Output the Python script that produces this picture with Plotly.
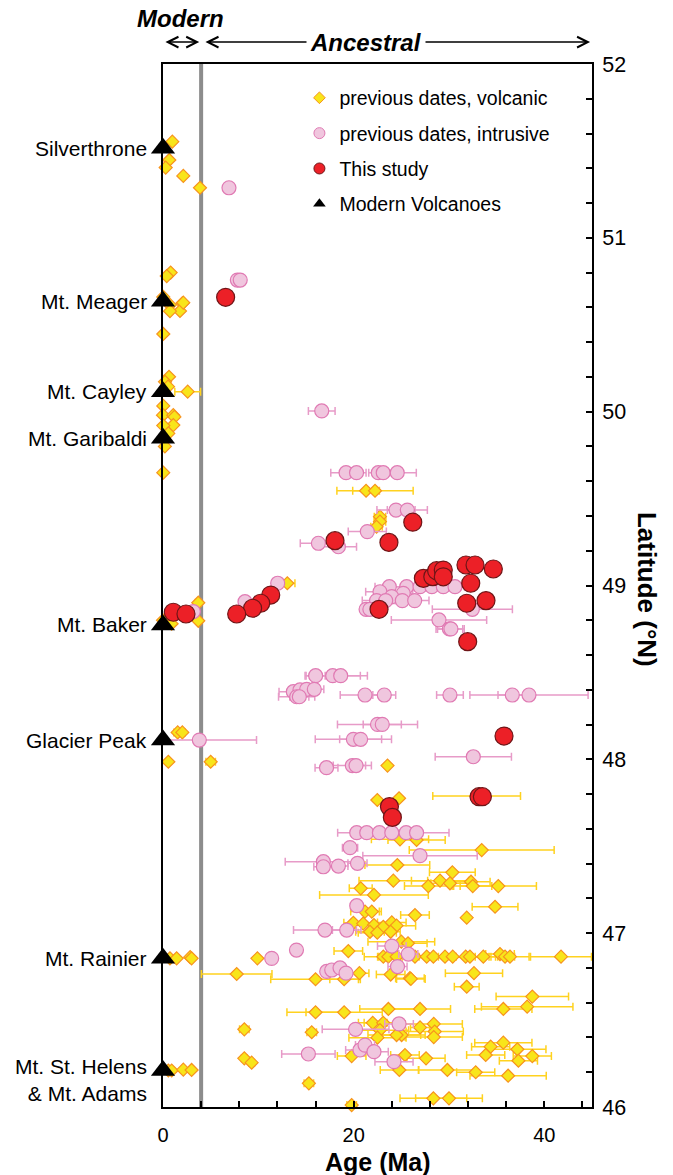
import plotly.graph_objects as go

# ---- previous dates, volcanic: age (Ma), latitude (°N), ± age error (Ma)
volc_age = [0.98, 0.66, 0.28, 2.13, 3.88,
            0.8, 0.39, 0.03, 0.73, 2.03, 1.78, 0.73, 0.03, 2.13,
            0.63, 0.21, 0.53, 2.59,
            0.03, 0.0, 1.08, 1.2, 1.08, 0.03, 0.56, 0.2, 0.2, 0.03,
            21.3, 22.24, 22.76, 22.76, 22.4, 13.04,
            3.7, 3.7, 0.0, 0.9,
            1.54, 2.03, 0.56, 5.0, 23.55,
            22.48, 24.76, 32.9, 24.86, 26.6, 33.43, 24.58, 30.35,
            24.16, 27.83, 29.06, 30.1, 32.31, 32.49, 35.17, 20.74, 22.13,
            34.83, 31.86, 26.43, 21.19, 21.9,
            19.97, 21.0, 22.13, 23.11, 24.0, 24.5, 21.71, 22.48, 23.88,
            25.0, 25.7,
            19.44, 23.11, 23.64, 24.51, 26.43, 27.66, 28.36, 29.58, 30.39,
            31.75, 32.2, 33.6, 35.35, 35.88, 36.4, 41.75,
            0.73, 1.43, 2.85, 3.0, 9.9,
            7.73, 16.0, 19.0, 20.6, 23.88, 25.9, 26.0, 32.62, 31.86,
            16.0, 19.0, 23.64, 26.96, 35.7, 38.2, 38.74,
            8.53, 15.6, 22.0, 23.1, 22.76, 22.5, 25.03, 24.5, 26.96,
            28.4, 28.5, 28.4,
            35.7, 34.37, 37.17, 38.74, 37.28, 33.85, 19.79, 25.38, 27.59,
            24.79, 29.83, 32.8, 36.2, 15.3, 28.36, 30.0, 19.79,
            8.53, 9.3,
            0.56, 0.91, 2.13, 3.0]
volc_lat = [51.553, 51.448, 51.404, 51.356, 51.288,
            50.80, 50.78, 50.66, 50.614, 50.623, 50.579, 50.578, 50.447, 50.627,
            50.201, 50.172, 50.144, 50.115,
            50.033, 49.98, 49.98, 49.97, 49.923, 49.92, 49.875, 49.837, 49.80, 49.649,
            49.545, 49.545, 49.396, 49.367, 49.338, 49.013,
            48.901, 48.797, 48.80, 48.78,
            48.155, 48.155, 47.986, 47.986, 47.964,
            47.766, 47.776, 47.789, 47.54, 47.536, 47.478, 47.392, 47.35,
            47.302, 47.271, 47.302, 47.287, 47.296, 47.271, 47.271, 47.258, 47.22,
            47.152, 47.089, 47.104, 47.124, 47.124,
            47.06, 47.055, 47.047, 47.037, 47.062, 47.043, 47.008, 47.003, 47.008,
            46.951, 46.942,
            46.897, 46.865, 46.865, 46.865, 46.865, 46.865, 46.865, 46.865, 46.865,
            46.865, 46.865, 46.865, 46.88, 46.865, 46.865, 46.865,
            46.855, 46.855, 46.862, 46.855, 46.855,
            46.765, 46.735, 46.735, 46.77, 46.762, 46.741, 46.737, 46.77, 46.692,
            46.545, 46.545, 46.564, 46.564, 46.564, 46.577, 46.635,
            46.447, 46.43, 46.484, 46.484, 46.442, 46.399, 46.414, 46.414, 46.458,
            46.478, 46.434, 46.402,
            46.37, 46.347, 46.332, 46.293, 46.266, 46.299, 46.293, 46.299, 46.28,
            46.213, 46.213, 46.2, 46.18, 46.136, 46.05, 46.05, 46.011,
            46.28, 46.255,
            46.21, 46.21, 46.215, 46.213]
volc_err = [0, 0, 0, 0, 0,
            0, 0, 0, 0, 0, 0, 0, 0, 0,
            0, 0, 0, 1.35,
            0, 0, 0, 0, 0, 0, 0, 0, 0, 0,
            1.4, 4.0, 0.6, 0.6, 0.6, 0.8,
            0.3, 0, 0, 0,
            0.4, 0.3, 0, 0.5, 0,
            0, 0, 4.6, 3.0, 3.0, 7.6, 3.4, 2.4,
            3.6, 2.5, 3.0, 2.0, 2.0, 2.0, 4.0, 1.2, 5.7,
            2.4, 0, 1.5, 1.5, 1.0,
            1.0, 1.0, 2.0, 1.5, 1.5, 2.0, 1.5, 2.0, 1.0,
            3.5, 2.0,
            1.5, 2.0, 1.0, 2.0, 1.5, 1.0, 1.5, 2.0, 1.5,
            1.0, 2.0, 1.5, 1.5, 1.0, 2.0, 3.2,
            0, 0, 0, 0, 0,
            3.7, 4.7, 1.5, 1.0, 1.5, 1.5, 1.5, 3.0, 1.3,
            3.0, 4.0, 3.0, 3.2, 3.0, 4.8, 3.8,
            0.5, 0.5, 1.5, 2.0, 3.0, 3.0, 2.0, 3.0, 1.0,
            3.0, 3.0, 3.0,
            3.0, 2.0, 3.0, 2.0, 2.0, 2.0, 1.5, 1.5, 2.0,
            2.0, 3.0, 2.0, 4.0, 0.5, 3.5, 3.5, 0.5,
            0.3, 0.3,
            0, 0, 0, 0]

# ---- previous dates, intrusive
intr_age = [6.92, 7.8, 8.1, 16.65,
            19.2, 20.3, 22.58, 23.1, 24.57, 24.44, 25.63, 21.43, 16.3, 18.4,
            12.03, 8.6, 3.18,
            23.74, 25.56, 26.96, 28.2, 29.4, 30.63, 22.76, 25.2, 23.99,
            22.4, 23.36, 25.1, 26.4, 21.3, 21.7, 32.45, 28.95, 30.04, 30.2,
            16.01, 17.8, 18.64,
            13.67, 14.37, 15.07, 15.87, 14.02, 14.3,
            21.19, 23.21, 30.1, 36.64, 38.39,
            22.5, 23.0, 3.81, 19.97, 20.73, 32.55,
            17.15, 19.86, 20.25,
            20.32, 21.37, 22.7, 24.0, 25.5, 26.6,
            19.62, 26.96, 16.82, 16.82, 18.4, 20.4,
            20.32, 16.99, 19.27,
            24.0, 25.73, 11.4, 14.0,
            17.17, 17.7, 18.57, 19.2, 24.6,
            20.2, 24.76, 15.25, 20.66, 21.19, 22.13, 24.23]
intr_lat = [51.288, 50.757, 50.757, 50.004,
            49.649, 49.649, 49.649, 49.649, 49.649, 49.434, 49.434, 49.31, 49.243, 49.223,
            49.013, 48.907, 48.85,
            48.993, 48.993, 48.993, 48.993, 48.993, 48.993, 48.964, 48.955, 48.936,
            48.913, 48.913, 48.913, 48.913, 48.863, 48.863, 48.863, 48.802, 48.75, 48.75,
            48.481, 48.481, 48.481,
            48.389, 48.399, 48.403, 48.403, 48.36, 48.36,
            48.37, 48.37, 48.37, 48.37, 48.37,
            48.201, 48.201, 48.111, 48.115, 48.115, 48.015,
            47.952, 47.964, 47.964,
            47.578, 47.578, 47.578, 47.578, 47.578, 47.578,
            47.492, 47.446, 47.411, 47.382, 47.386, 47.402,
            47.158, 47.018, 47.018,
            46.926, 46.88, 46.855, 46.903,
            46.78, 46.788, 46.8, 46.77, 46.808,
            46.447, 46.478, 46.305, 46.328, 46.356, 46.318, 46.261]
intr_err = [0, 0.5, 0.5, 1.4,
            1.6, 1.0, 1.0, 1.0, 2.0, 2.0, 2.1, 2.0, 1.9, 1.9,
            0, 0, 0,
            1.5, 1.5, 1.0, 1.0, 1.0, 1.0, 1.5, 1.0, 1.0,
            1.5, 1.0, 1.0, 1.5, 0.5, 0.5, 4.2, 5.0, 1.4, 1.4,
            1.0, 2.9, 2.8,
            1.5, 1.0, 1.0, 1.0, 1.9, 1.0,
            2.6, 1.2, 1.4, 1.5, 6.2,
            4.2, 2.0, 6.0, 4.0, 2.2, 4.0,
            1.2, 2.0, 1.0,
            2.0, 1.5, 1.5, 1.5, 1.5, 3.4,
            0.8, 6.0, 4.0, 1.0, 1.0, 1.0,
            0, 3.3, 1.5,
            1.5, 1.0, 0, 0,
            0, 0, 0, 0, 1.0,
            3.5, 1.5, 2.8, 1.5, 1.0, 1.5, 2.0]

# ---- this study
new_age = [6.57, 26.2, 18.04, 23.7, 11.3, 10.25, 9.4, 7.73, 1.08, 2.41,
           22.66, 27.31, 28.3, 28.7, 29.4, 29.4, 31.78, 32.73, 34.65, 32.28,
           31.86, 33.88, 31.96, 35.77, 33.15, 33.5, 23.75, 24.06]
new_lat = [50.658, 49.364, 49.258, 49.248, 48.945, 48.898, 48.869, 48.836, 48.846, 48.836,
           48.863, 49.041, 49.051, 49.085, 49.089, 49.05, 49.118, 49.118, 49.095, 49.013,
           48.898, 48.913, 48.677, 48.134, 47.785, 47.785, 47.728, 47.666]

# ---- modern volcanoes
volcano_names = ["Silverthrone", "Mt. Meager", "Mt. Cayley", "Mt. Garibaldi",
                 "Mt. Baker", "Glacier Peak", "Mt. Rainier", "Mt. St. Helens<br>& Mt. Adams"]
volcano_lat = [51.515, 50.635, 50.115, 49.847, 48.773, 48.111, 46.855, 46.21]
volcano_age = [0, 0, 0, 0, 0, 0, 0, 0]

FONT = "Liberation Sans"

fig = go.Figure()

fig.add_trace(go.Scatter(
    x=volc_age, y=volc_lat, mode="markers", showlegend=False, cliponaxis=False,
    error_x=dict(type="data", array=volc_err, color="#FFD21F", thickness=1.5, width=4),
    marker=dict(symbol="diamond", size=10, color="#F8E51A",
                line=dict(color="#F7931E", width=1.2))))

fig.add_trace(go.Scatter(
    x=intr_age, y=intr_lat, mode="markers", showlegend=False, cliponaxis=False,
    error_x=dict(type="data", array=intr_err, color="#E79BC8", thickness=1.5, width=4),
    marker=dict(symbol="circle", size=14, color="#F0C6DE",
                line=dict(color="#E07AB3", width=1.2))))

fig.add_trace(go.Scatter(
    x=new_age, y=new_lat, mode="markers", showlegend=False, cliponaxis=False,
    marker=dict(symbol="circle", size=18, color="#EC2027",
                line=dict(color="#6E1517", width=1.2))))

fig.add_trace(go.Scatter(
    x=volcano_age, y=volcano_lat, mode="markers", showlegend=False, cliponaxis=False,
    marker=dict(symbol="triangle-up", size=21, color="black")))

# legend entries
legend_items = [
    ("previous dates, volcanic", dict(symbol="diamond", size=9, color="#F8E51A",
                                      line=dict(color="#F7931E", width=1))),
    ("previous dates, intrusive", dict(symbol="circle", size=11, color="#F0C6DE",
                                       line=dict(color="#E07AB3", width=1))),
    ("This study", dict(symbol="circle", size=11, color="#EC2027",
                        line=dict(color="#6E1517", width=1))),
    ("Modern Volcanoes", dict(symbol="triangle-up", size=11, color="black")),
]
for i, (name, mk) in enumerate(legend_items):
    fig.add_trace(go.Scatter(x=[None], y=[None], mode="markers", name=name,
                             marker=mk, legendgroup=f"g{i}"))

# modern / ancestral boundary
fig.add_shape(type="line", xref="x", yref="paper", x0=4, x1=4, y0=0, y1=1,
              line=dict(color="#8C8C8C", width=4), layer="below")

annotations = []
for name, lat in zip(volcano_names, volcano_lat):
    shift = -10 if "<br>" in name else 0
    annotations.append(dict(text=name, xref="paper", yref="y", x=-0.033, y=lat,
                            xanchor="right", yanchor="middle", showarrow=False,
                            yshift=shift, align="right",
                            font=dict(family=FONT, size=21, color="black")))

# period arrows above the plot
for x_head, x_tail in [(3.8, 0.1), (44.8, 4.3)]:
    annotations.append(dict(text="", xref="x", yref="paper", axref="x", ayref="pixel",
                            x=x_head, y=1.021, ax=x_tail, ay=0, showarrow=True,
                            arrowside="end+start", arrowhead=5, startarrowhead=5,
                            arrowsize=1.4, startarrowsize=1.4, arrowwidth=1.5,
                            arrowcolor="black"))
annotations.append(dict(text="<b><i>Ancestral</i></b>", xref="x", yref="paper",
                        x=21.3, y=1.021, showarrow=False, bgcolor="white",
                        xanchor="center", yanchor="middle", borderpad=3,
                        font=dict(family=FONT, size=24, color="black")))
annotations.append(dict(text="<b><i>Modern</i></b>", xref="x", yref="paper",
                        x=1.8, y=1.044, showarrow=False,
                        xanchor="center", yanchor="middle",
                        font=dict(family=FONT, size=24, color="black")))
annotations.append(dict(text="<b>Latitude (°N)</b>", xref="paper", yref="paper",
                        x=1.13, y=0.496, showarrow=False, textangle=90,
                        xanchor="center", yanchor="middle",
                        font=dict(family=FONT, size=26, color="black")))
annotations.append(dict(text="<b>Age (Ma)</b>", xref="paper", yref="paper",
                        x=0.5, y=-0.053, showarrow=False,
                        xanchor="center", yanchor="middle",
                        font=dict(family=FONT, size=25, color="black")))

fig.update_layout(
    width=673, height=1175,
    margin=dict(l=163, r=81, t=64, b=68),
    paper_bgcolor="white", plot_bgcolor="white",
    font=dict(family=FONT, color="black"),
    annotations=annotations,
    legend=dict(x=0.318, y=0.986, xanchor="left", yanchor="top",
                bgcolor="rgba(0,0,0,0)", traceorder="grouped", tracegroupgap=7,
                itemwidth=30, font=dict(family=FONT, size=19.5, color="black")),
    xaxis=dict(range=[0, 45], showgrid=False, zeroline=False,
               showline=True, linecolor="black", linewidth=2, mirror=True,
               tickmode="linear", tick0=0, dtick=20,
               ticks="inside", ticklen=6, tickwidth=1.5, tickcolor="black",
               minor=dict(dtick=4, tick0=0, ticks="inside", ticklen=6,
                          tickwidth=1.5, tickcolor="black"),
               ticklabelstandoff=9,
               tickfont=dict(family=FONT, size=20)),
    yaxis=dict(range=[46, 52], side="right", showgrid=False, zeroline=False,
               showline=True, linecolor="black", linewidth=2, mirror=True,
               tickmode="linear", tick0=46, dtick=1,
               ticks="inside", ticklen=6, tickwidth=1.5, tickcolor="black",
               minor=dict(dtick=0.2, tick0=46, ticks="inside", ticklen=6,
                          tickwidth=1.5, tickcolor="black"),
               ticklabelstandoff=4,
               tickfont=dict(family=FONT, size=21.5)),
)

fig.write_html("out.html")
